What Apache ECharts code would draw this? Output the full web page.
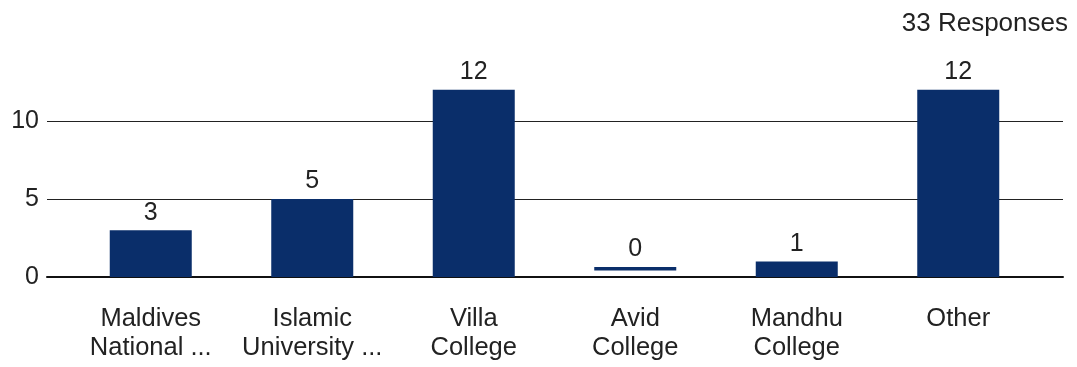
<!DOCTYPE html>
<html><head><meta charset="utf-8">
<script src="https://cdn.jsdelivr.net/npm/echarts@6/dist/echarts.min.js"></script>
<style>html,body{margin:0;padding:0;background:#fff}#c{width:1077px;height:367px}</style>
</head><body><div id="c"></div>
<script>
var categories = ['Maldives\nNational ...', 'Islamic\nUniversity ...', 'Villa\nCollege', 'Avid\nCollege', 'Mandhu\nCollege', 'Other'];
var values = [3, 5, 12, 0, 1, 12];
var yTicks = [0, 5, 10];
var totalText = '33 Responses';

var NAVY = '#0a2e6a';
var FONT = '"Liberation Sans", Arial, sans-serif';
var chart = echarts.init(document.getElementById('c'));
chart.setOption({
  animation: false,
  textStyle: { fontFamily: FONT },
  title: { text: totalText, right: 4, top: 6, textStyle: { fontSize: 26, fontWeight: 'normal', color: '#222', fontFamily: FONT } },
  grid: [
    { left: 70, right: 38, top: 43, bottom: 90 },
    { left: 47, right: 14, top: 43, bottom: 90 }
  ],
  xAxis: [
    { type: 'category', gridIndex: 0, data: categories,
      axisLine: { show: false }, axisTick: { show: false },
      axisLabel: { interval: 0, fontSize: 25.5, lineHeight: 29, color: '#222', margin: 27, fontFamily: FONT } },
    { type: 'category', gridIndex: 1, data: [''],
      axisLine: { show: true, lineStyle: { color: '#111', width: 2 } },
      axisTick: { show: false }, axisLabel: { show: false } }
  ],
  yAxis: [
    { type: 'value', gridIndex: 0, min: 0, max: 15, interval: 5, show: false, splitLine: { show: false } },
    { type: 'value', gridIndex: 1, min: 0, max: 15, interval: 5,
      axisLine: { show: false }, axisTick: { show: false },
      axisLabel: { showMaxLabel: false, fontSize: 25, color: '#222', margin: 8, fontFamily: FONT,
        formatter: function (v) { return yTicks.indexOf(v) >= 0 ? String(v) : ''; } },
      splitLine: { show: true, showMaxLine: false, lineStyle: { color: '#222', width: 1 } } }
  ],
  series: [
    { type: 'bar', xAxisIndex: 0, yAxisIndex: 0, data: values, barWidth: 82, barMinHeight: 10,
      itemStyle: { color: function (p) { return p.value === 0 ? 'rgba(0,0,0,0)' : NAVY; } },
      label: { show: true, position: 'top', distance: 5, fontSize: 25, color: '#222', fontFamily: FONT } },
    { type: 'custom', xAxisIndex: 0, yAxisIndex: 0, z: 3,
      data: values.map(function (v, i) { return [i, v]; }),
      renderItem: function (params, api) {
        if (api.value(1) !== 0) return null;
        var p = api.coord([api.value(0), 0]);
        var w = 82;
        return { type: 'rect', shape: { x: p[0] - w / 2, y: p[1] - 10, width: w, height: 3.5 }, style: { fill: NAVY } };
      } }
  ]
});
</script></body></html>
